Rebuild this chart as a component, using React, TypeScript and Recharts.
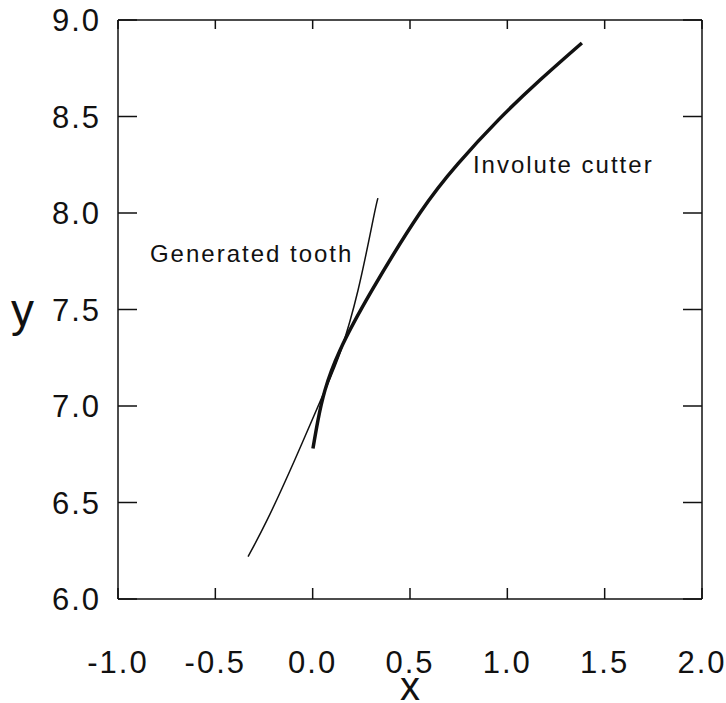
import { LineChart, Line, XAxis, YAxis, ReferenceDot } from "recharts";

// Involute cutter profile (thick line)
const cutterX = [0.0015, 0.027, 0.063, 0.14, 0.305, 0.551, 0.746, 0.952, 1.168, 1.383];
const cutterY = [6.78, 6.925, 7.081, 7.288, 7.6, 8.0, 8.255, 8.48, 8.689, 8.881];

// Generated tooth profile (thin line)
const toothX = [-0.332, -0.235, -0.091, 0.063, 0.145, 0.233, 0.31, 0.335];
const toothY = [6.22, 6.407, 6.723, 7.081, 7.288, 7.6, 7.963, 8.077];

const xTicks = [-1.0, -0.5, 0.0, 0.5, 1.0, 1.5, 2.0];
const yTicks = [6.0, 6.5, 7.0, 7.5, 8.0, 8.5, 9.0];

const cutterData = cutterX.map((x, i) => ({ x, y: cutterY[i] }));
const toothData = toothX.map((x, i) => ({ x, y: toothY[i] }));

const FONT = "'Liberation Sans', Arial, sans-serif";
const INK = "#111";

const BottomTick = (props: any) => {
  const { x, y, payload } = props;
  return (
    <g>
      <line x1={x} y1={y} x2={x} y2={y - 11} stroke={INK} strokeWidth={1.5} />
      <text x={x} y={y + 74} textAnchor="middle" fontSize={31} letterSpacing={2} fontFamily={FONT} fill={INK}>
        {payload.value.toFixed(1)}
      </text>
    </g>
  );
};

const LeftTick = (props: any) => {
  const { x, y, payload } = props;
  return (
    <g>
      <line x1={x} y1={y} x2={x + 19} y2={y} stroke={INK} strokeWidth={1.5} />
      <text x={x - 17} y={y + 11} textAnchor="end" fontSize={31} letterSpacing={2} fontFamily={FONT} fill={INK}>
        {payload.value.toFixed(1)}
      </text>
    </g>
  );
};

const TopTick = (props: any) => {
  const { x, y } = props;
  return <line x1={x} y1={y} x2={x} y2={y + 9} stroke={INK} strokeWidth={1.5} />;
};

const RightTick = (props: any) => {
  const { x, y } = props;
  return <line x1={x} y1={y} x2={x - 19} y2={y} stroke={INK} strokeWidth={1.5} />;
};

const note = (text: string) => (props: any) => {
  const { viewBox } = props;
  return (
    <text x={viewBox.x} y={viewBox.y} fontSize={24} letterSpacing={2} fontFamily={FONT} fill={INK}>
      {text}
    </text>
  );
};

const axisLine = { stroke: INK, strokeWidth: 1.5 };

export default function App() {
  return (
    <div style={{ position: "absolute", left: 0, top: 0, background: "#fff" }}>
      <LineChart width={726} height={703} margin={{ top: 19, right: 23, bottom: 0, left: 0 }}>
        <XAxis
          type="number"
          dataKey="x"
          domain={[-1, 2]}
          ticks={xTicks}
          height={104}
          tickSize={0}
          tickMargin={0}
          tickLine={false}
          axisLine={axisLine}
          tick={<BottomTick />}
          allowDataOverflow
          label={{ value: "x", position: "insideBottom", offset: 3, fontSize: 40, fontFamily: FONT, fill: INK }}
        />
        <XAxis
          xAxisId="top"
          orientation="top"
          type="number"
          dataKey="x"
          domain={[-1, 2]}
          ticks={xTicks}
          height={1}
          tickSize={0}
          tickMargin={0}
          tickLine={false}
          axisLine={axisLine}
          tick={<TopTick />}
          allowDataOverflow
        />
        <YAxis
          type="number"
          dataKey="y"
          domain={[6, 9]}
          ticks={yTicks}
          width={118}
          tickSize={0}
          tickMargin={0}
          tickLine={false}
          axisLine={axisLine}
          tick={<LeftTick />}
          allowDataOverflow
          label={{ value: "y", position: "insideLeft", offset: 11, fontSize: 46, fontFamily: FONT, fill: INK }}
        />
        <YAxis
          yAxisId="right"
          orientation="right"
          type="number"
          dataKey="y"
          domain={[6, 9]}
          ticks={yTicks}
          width={1}
          tickSize={0}
          tickMargin={0}
          tickLine={false}
          axisLine={axisLine}
          tick={<RightTick />}
          allowDataOverflow
        />
        <Line
          data={toothData}
          dataKey="y"
          xAxisId="top"
          yAxisId="right"
          type="natural"
          stroke={INK}
          strokeWidth={1.5}
          dot={false}
          isAnimationActive={false}
        />
        <Line
          data={cutterData}
          dataKey="y"
          type="natural"
          stroke={INK}
          strokeWidth={3.5}
          dot={false}
          isAnimationActive={false}
        />
        <ReferenceDot x={-0.836} y={7.745} r={0} fill="none" stroke="none" label={note("Generated tooth")} />
        <ReferenceDot x={0.823} y={8.206} r={0} fill="none" stroke="none" label={note("Involute cutter")} />
      </LineChart>
    </div>
  );
}
